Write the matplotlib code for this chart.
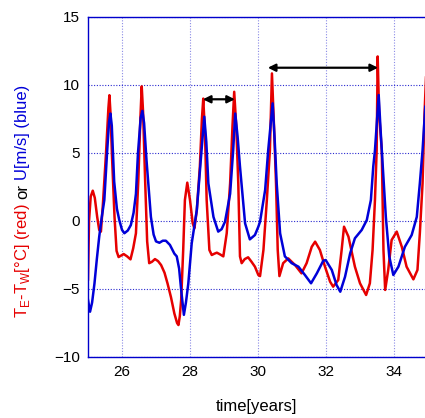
import matplotlib
matplotlib.use("Agg")
import matplotlib.pyplot as plt
import numpy as np

# ---------------- data ----------------
red_t = [25.00, 25.03, 25.08, 25.14, 25.20, 25.27, 25.33, 25.38, 25.44, 25.53, 25.60, 25.63, 25.66, 25.71,
         25.78, 25.84, 25.90, 26.05, 26.15, 26.25, 26.33, 26.41, 26.48, 26.54, 26.58, 26.62, 26.68, 26.74,
         26.80, 26.88, 26.97, 27.06, 27.15, 27.25, 27.34, 27.44, 27.54, 27.62, 27.66, 27.70, 27.74, 27.80,
         27.85, 27.92, 28.00, 28.08, 28.13, 28.20, 28.29, 28.35, 28.39, 28.44, 28.49, 28.57, 28.64, 28.72,
         28.79, 28.88, 28.98, 29.08, 29.18, 29.25, 29.30, 29.36, 29.42, 29.47, 29.52, 29.61, 29.71, 29.81,
         29.91, 30.01, 30.06, 30.16, 30.26, 30.35, 30.41, 30.47, 30.53, 30.58, 30.63, 30.74, 30.89, 31.09,
         31.28, 31.43, 31.58, 31.68, 31.82, 31.97, 32.12, 32.21, 32.36, 32.46, 32.53, 32.66, 32.85, 33.00,
         33.18, 33.29, 33.37, 33.44, 33.49, 33.52, 33.56, 33.64, 33.69, 33.74, 33.83, 33.93, 34.08, 34.23,
         34.37, 34.57, 34.69, 34.76, 34.84, 34.90, 34.95]
red_v = [-4.3, 0.0, 1.8, 2.23, 1.7, 0.3, -0.66, -0.78, 1.3, 5.0, 8.3, 9.25, 8.0, 4.5,
         0.3, -2.2, -2.65, -2.43, -2.6, -2.82, -2.0, -0.9, 3.0, 7.5, 9.9, 8.0, 3.0, -1.5,
         -3.1, -3.0, -2.8, -2.95, -3.24, -3.8, -4.6, -5.6, -6.8, -7.5, -7.65, -7.0, -5.8, -2.13,
         1.54, 2.82, 1.54, -0.17, -0.54, 0.8, 4.0, 7.5, 9.0, 6.5, 1.54, -2.13, -2.5, -2.4,
         -2.33, -2.45, -2.6, -0.9, 2.77, 7.0, 9.5, 7.0, 2.77, -2.6, -3.1, -2.8, -2.67, -3.0,
         -3.36, -3.97, -4.05, -2.13, 1.54, 5.2, 10.85, 7.0, 2.77, -2.13, -4.05, -3.1, -2.75, -3.24,
         -3.85, -3.1, -1.9, -1.52, -2.13, -3.36, -4.46, -4.83, -4.34, -2.13, -0.42, -1.15, -3.36, -4.58,
         -5.44, -4.58, -2.13, 1.54, 5.2, 12.1, 8.0, 5.2, -2.13, -5.07, -3.6, -1.4, -0.78, -1.9,
         -3.36, -4.29, -3.6, -0.9, 2.77, 8.0, 11.1]

blue_t = [25.00, 25.06, 25.12, 25.19, 25.26, 25.33, 25.40, 25.48, 25.56, 25.62, 25.66, 25.70, 25.77, 25.85,
          25.92, 26.00, 26.07, 26.17, 26.26, 26.34, 26.41, 26.47, 26.55, 26.60, 26.65, 26.72, 26.85, 26.93,
          27.00, 27.10, 27.20, 27.29, 27.41, 27.54, 27.61, 27.68, 27.74, 27.82, 27.88, 27.95, 28.05, 28.20,
          28.34, 28.42, 28.48, 28.54, 28.69, 28.83, 28.93, 29.03, 29.18, 29.27, 29.33, 29.40, 29.47, 29.62,
          29.76, 29.91, 30.01, 30.06, 30.21, 30.30, 30.43, 30.49, 30.55, 30.65, 30.79, 30.99, 31.19, 31.38,
          31.56, 31.73, 31.92, 31.99, 32.17, 32.31, 32.42, 32.56, 32.71, 32.85, 33.05, 33.20, 33.32, 33.39,
          33.44, 33.55, 33.61, 33.67, 33.76, 33.86, 33.98, 34.13, 34.32, 34.52, 34.67, 34.76, 34.84, 34.92]
blue_v = [-5.8, -6.67, -6.0, -4.6, -2.8, -1.15, 0.2, 1.54, 5.0, 7.3, 7.9, 7.0, 2.9, 0.9,
          0.07, -0.65, -0.9, -0.7, -0.3, 0.6, 2.0, 5.0, 7.6, 8.1, 7.2, 4.5, 0.3, -1.0,
          -1.5, -1.6, -1.45, -1.45, -1.76, -2.4, -2.6, -3.5, -5.07, -6.9, -6.0, -4.6, -1.65, 0.8,
          5.2, 7.67, 5.8, 2.77, 0.3, -0.78, -0.6, -0.05, 2.0, 5.2, 7.9, 6.2, 4.0, -0.17,
          -1.35, -1.03, -0.42, -0.05, 2.28, 5.2, 8.65, 6.0, 2.77, -0.9, -2.6, -3.1, -3.36, -3.97,
          -4.58, -3.85, -2.92, -2.87, -3.6, -4.7, -5.2, -4.1, -2.38, -1.27, -0.66, 0.07, 1.54, 4.0,
          5.2, 9.26, 6.5, 4.0, 0.3, -2.6, -3.97, -3.36, -1.9, -1.03, 0.3, 2.77, 5.2, 8.4]

arrow_start = [28.38, 30.29]
arrow_end = [29.32, 33.53]
arrow_level = [8.95, 11.27]

x_ticks = [26, 28, 30, 32, 34]
y_ticks = [-10, -5, 0, 5, 10, 15]

ylabel_parts = [r"T$_\mathregular{E}$-T$_\mathregular{W}$[°C] (red)", "or", "U[m/s] (blue)"]
ylabel_colors = ["#e60000", "black", "#0000d8"]

# ---------------- figure ----------------
plt.rcParams['font.family'] = ['Liberation Sans', 'DejaVu Sans']
plt.rcParams['mathtext.fontset'] = 'custom'
plt.rcParams['mathtext.rm'] = 'Liberation Sans'

W, H = 425, 418
fig = plt.figure(figsize=(W / 100, H / 100), dpi=100)
ax = fig.add_axes([88 / W, (H - 357) / H, 340 / W, 340 / H])

ax.plot(red_t, red_v, color="#e60000", lw=1.8, solid_joinstyle='round')
ax.plot(blue_t, blue_v, color="#0000d8", lw=1.8, solid_joinstyle='round')

for s, e, lv in zip(arrow_start, arrow_end, arrow_level):
    ax.annotate('', xy=(e, lv), xytext=(s, lv),
                arrowprops=dict(arrowstyle='<|-|>', color='black', lw=1.6,
                                mutation_scale=11, shrinkA=0, shrinkB=0))

ax.set_xlim(25, 35)
ax.set_ylim(-10, 15)
ax.set_xticks(x_ticks)
ax.set_yticks(y_ticks)
ax.tick_params(length=0, labelsize=11, pad=6)
ax.xaxis.grid(True, linestyle=(0, (1, 1.5)), color='#8a8ae6', lw=0.8)
ax.yaxis.grid(True, linestyle=(0, (1, 1.5)), color='#2a2ad0', lw=0.8)
ax.set_axisbelow(True)
for sp in ax.spines.values():
    sp.set_color('#0000cc')
    sp.set_linewidth(1.0)

fig.text(256 / W, (H - 407) / H, "time[years]", ha='center', va='center', fontsize=12)

# multi-coloured rotated y label
fig.canvas.draw()
renderer = fig.canvas.get_renderer()
xb = 27 / W
ypix = H - 318
gap = 4
for txt, col in zip(ylabel_parts, ylabel_colors):
    t = fig.text(xb, ypix / H, txt, rotation=90, rotation_mode='anchor',
                 ha='left', va='baseline', color=col, fontsize=12)
    bb = t.get_window_extent(renderer)
    ypix = bb.y1 + gap

fig.savefig("out.png", dpi=100)
